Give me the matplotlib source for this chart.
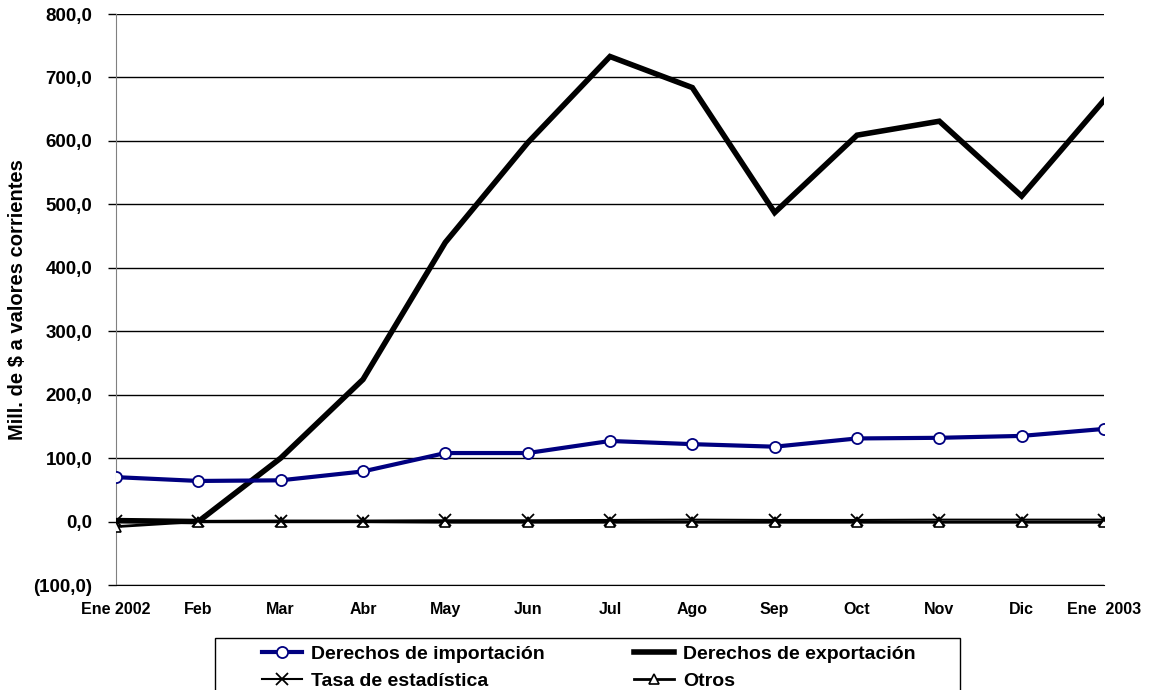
import matplotlib
matplotlib.use("Agg")
import matplotlib.pyplot as plt
from matplotlib.ticker import FuncFormatter
from matplotlib.patches import Rectangle

plt.rcParams['font.family'] = ['Liberation Sans', 'DejaVu Sans']
plt.rcParams['font.weight'] = 'bold'

months = ["Ene 2002", "Feb", "Mar", "Abr", "May", "Jun", "Jul", "Ago",
          "Sep", "Oct", "Nov", "Dic", "Ene  2003"]
importacion = [70, 64, 65, 79, 108, 108, 127, 122, 118, 131, 132, 135, 146]
exportacion = [1.5, 0, 100, 224, 440, 597, 733, 684, 487, 609, 631, 513, 664]
tasa = [1, 1, 1.5, 1.5, 2, 2, 2.5, 3, 2.5, 2.5, 3, 3, 3]
otros = [-8, 0, 0, 0, -1, -1, -1, -1, -1, -1, -1, -1, -1]

W, H = 1152, 690
fig = plt.figure(figsize=(W / 100, H / 100), dpi=100)
ax = fig.add_axes([116 / W, 1 - 585 / H, (1104 - 116) / W, (585 - 14) / H])

x = list(range(len(months)))

ax.plot(x, exportacion, color='black', lw=4, solid_joinstyle='miter',
        label='Derechos de exportación', zorder=3)
ax.plot(x, otros, color='black', lw=2, marker='^', markersize=7,
        markerfacecolor='white', markeredgecolor='black', markeredgewidth=1.2,
        label='Otros', zorder=4)
ax.plot(x, tasa, color='black', lw=1.5, marker='x', markersize=8,
        markeredgewidth=1.3, label='Tasa de estadística', zorder=5)
ax.plot(x, importacion, color='#000080', lw=3, marker='o', markersize=8,
        markerfacecolor='white', markeredgecolor='#000080', markeredgewidth=1.3,
        label='Derechos de importación', zorder=6)

ax.set_xlim(0, 12)
ax.set_ylim(-100, 800)
ax.set_yticks(range(-100, 801, 100))
ax.yaxis.set_major_formatter(FuncFormatter(
    lambda v, p: f"({abs(v):.1f})".replace('.', ',') if v < 0 else f"{v:.1f}".replace('.', ',')))
ax.set_xticks(x)
ax.set_xticklabels(months)
ax.tick_params(axis='x', length=0, pad=12, labelsize=11.5)
ax.tick_params(axis='y', length=6, width=1, direction='out', pad=11, labelsize=13.5)
ax.grid(axis='y', color='black', lw=1)
ax.set_axisbelow(True)
for side in ('top', 'right'):
    ax.spines[side].set_visible(False)
ax.spines['left'].set_color('#808080')
ax.spines['bottom'].set_color('black')
ax.set_ylabel('Mill. de $ a valores corrientes', fontsize=14.5, fontweight='bold')
ax.yaxis.set_label_coords((27 - 116) / (1104 - 116), 0.5)

# legend frame, open at the bottom edge of the figure
fig.patches.append(Rectangle((215 / W, -0.05), (960 - 215) / W, 0.05 + 1 - 638 / H,
                             transform=fig.transFigure, facecolor='white',
                             edgecolor='black', lw=1))

handles, labels = ax.get_legend_handles_labels()
order = ['Derechos de importación', 'Tasa de estadística', 'Derechos de exportación', 'Otros']
hmap = dict(zip(labels, handles))
leg = fig.legend([hmap[k] for k in order], order, loc='upper left', ncol=2,
                 bbox_to_anchor=(262 / W, 1 - 645 / H),
                 frameon=False, fontsize=14, handlelength=2.06, handletextpad=0.46,
                 labelspacing=0.5, borderpad=0, borderaxespad=0, columnspacing=4.6)

fig.savefig('out.png', dpi=100)
